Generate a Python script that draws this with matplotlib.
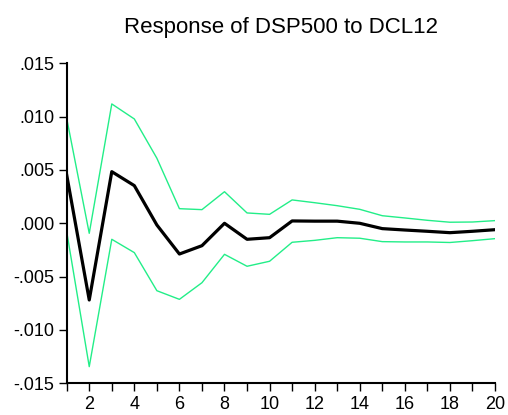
import matplotlib
matplotlib.use("Agg")
import matplotlib.pyplot as plt
from matplotlib.ticker import FuncFormatter, MultipleLocator

periods = list(range(1, 21))
response = [0.00453, -0.00719, 0.00484, 0.00353, -0.00016, -0.00288, -0.0021, 0.0,
            -0.0015, -0.00135, 0.00022, 0.0002, 0.0002, 0.0, -0.0005, -0.00063,
            -0.00075, -0.00088, -0.00075, -0.0006]
upper = [0.00984, -0.00094, 0.01119, 0.00978, 0.0061, 0.00137, 0.00128, 0.00296,
         0.00097, 0.00084, 0.00219, 0.00193, 0.00165, 0.00131, 0.00071, 0.0005,
         0.00028, 0.0001, 0.00012, 0.00025]
lower = [-0.00078, -0.01344, -0.0015, -0.00275, -0.00632, -0.00713, -0.00557, -0.00291,
         -0.00403, -0.00356, -0.00178, -0.0016, -0.00135, -0.0014, -0.00172, -0.00175,
         -0.00175, -0.0018, -0.00163, -0.00144]
title = "Response of DSP500 to DCL12"

plt.rcParams['font.family'] = ['Liberation Sans', 'DejaVu Sans']

fig = plt.figure(figsize=(5.08, 4.15), dpi=100)
ax = fig.add_axes([0.1313, 0.0764, 0.8431, 0.7711])

green = '#22EE88'
ax.plot(periods, upper, color=green, lw=1.0)
ax.plot(periods, lower, color=green, lw=1.0)
ax.plot(periods, response, color='black', lw=2.3)

ax.set_xlim(1, 20)
ax.set_ylim(-0.015, 0.015)
ax.spines['top'].set_visible(False)
ax.spines['right'].set_visible(False)
for s in ('left', 'bottom'):
    ax.spines[s].set_linewidth(1.5)

ax.xaxis.set_major_locator(MultipleLocator(2))
ax.xaxis.set_minor_locator(MultipleLocator(1))
ax.yaxis.set_major_locator(MultipleLocator(0.005))

def yfmt(v, pos):
    s = f"{v:.3f}"
    if s.startswith("-0"):
        s = "-" + s[2:]
    elif s.startswith("0"):
        s = s[1:]
    return s

ax.yaxis.set_major_formatter(FuncFormatter(yfmt))
ax.tick_params(axis='both', which='major', direction='out', length=6, width=1.0, labelsize=13, pad=3)
ax.tick_params(axis='x', which='minor', direction='out', length=6, width=1.0)

ax.set_title(title, fontsize=16, pad=22)

fig.savefig("out.png", dpi=100)
